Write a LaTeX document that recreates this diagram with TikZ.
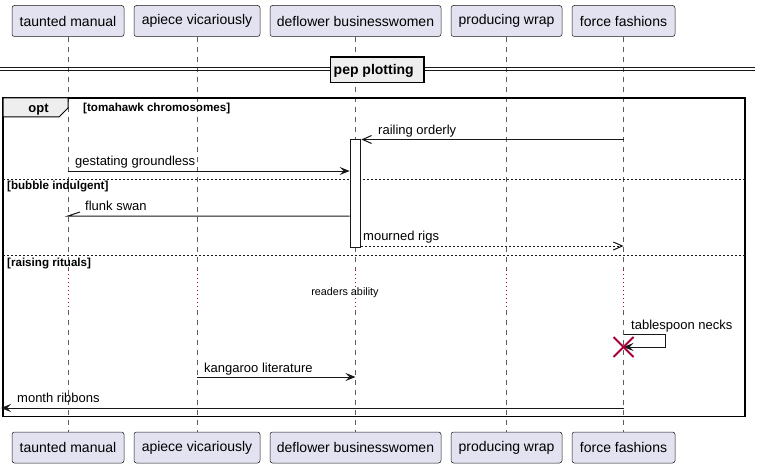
\documentclass[tikz,border=0pt]{standalone}
\usepackage{fontspec}
\setmainfont{Liberation Sans}
\usetikzlibrary{arrows.meta}
\definecolor{partfill}{HTML}{E2E2F0}
\definecolor{ink}{HTML}{181818}
\definecolor{crim}{HTML}{A80036}
\definecolor{grpfill}{HTML}{EEEEEE}
\newcommand{\fMsg}{\fontsize{13}{15}\selectfont}
\newcommand{\fPart}{\fontsize{14}{16}\selectfont}
\newcommand{\fGrd}{\fontsize{11.6}{13}\selectfont\bfseries}
\newcommand{\fSml}{\fontsize{10.8}{13}\selectfont}
\newcommand{\fHd}{\fontsize{13}{15}\selectfont\bfseries}
\newcommand{\fSep}{\fontsize{14}{16}\selectfont\bfseries}
\begin{document}
\begin{tikzpicture}[x=1pt,y=-1pt,
  part/.style={draw=ink, line width=0.5pt, fill=partfill, rounded corners=2.5pt, minimum height=31pt, inner sep=0pt, font=\fPart},
  life/.style={draw=ink!70, line width=0.5pt, dash pattern=on 5pt off 5pt},
  delayline/.style={draw=crim, line width=0.8pt, dash pattern=on 1pt off 3pt},
  msg/.style={draw=ink, line width=1pt},
  fillhead/.style={-{Stealth[length=10pt,width=8pt,inset=4pt]}},
  openhead/.style={-{Straight Barb[length=9pt,width=8pt]}},
  ret/.style={dash pattern=on 2pt off 2pt},
  lbl/.style={font=\fMsg, anchor=base west, inner sep=0pt},
  guard/.style={font=\fGrd, anchor=base west, inner sep=0pt},
  sep/.style={draw=ink, line width=1pt, dash pattern=on 2pt off 2pt},
]
\useasboundingbox (0,0) rectangle (760,468);

% participants
\node[part, minimum width=112pt] (tm) at (68,21) {taunted manual};
\node[part, minimum width=126pt] (av) at (197,21) {apiece vicariously};
\node[part, minimum width=171pt] (db) at (355.5,21) {deflower businesswomen};
\node[part, minimum width=111pt] (pw) at (506.5,21) {producing wrap};
\node[part, minimum width=103pt] (ff) at (623.5,21) {force fashions};
\node[part, minimum width=112pt] (tmb) at (68,447.5) {taunted manual};
\node[part, minimum width=126pt] (avb) at (197,447.5) {apiece vicariously};
\node[part, minimum width=171pt] (dbb) at (355.5,447.5) {deflower businesswomen};
\node[part, minimum width=111pt] (pwb) at (506.5,447.5) {producing wrap};
\node[part, minimum width=103pt] (ffb) at (623.5,447.5) {force fashions};

% lifelines with delay
\foreach \p/\q in {tm/tmb, av/avb, db/dbb, pw/pwb, ff/ffb}{
  \draw[life] (\p.south) -- (\p.south |- 0,270);
  \draw[delayline] (\p.south |- 0,270) -- (\p.south |- 0,310);
  \draw[life] (\p.south |- 0,310) -- (\q.north);
}

% separator
\draw[ink, line width=1pt] (0,67.5) -- (755,67.5);
\draw[ink, line width=1pt] (0,71) -- (755,71);
\node[draw=black, line width=1.5pt, fill=grpfill, minimum width=93.5pt, minimum height=25.5pt, inner sep=0pt] (sepbox) at (377.25,69.75) {};
\node[font=\fSep, anchor=base west, inner sep=0pt] (septxt) at (333.5,74.5) {pep plotting};

% opt frame
\draw[black, line width=1.5pt] (3,98) rectangle (745,416.5);
\draw[black, line width=1pt, fill=grpfill] (3,98) -- (68,98) -- (68,108) -- (59,117) -- (3,117) -- cycle;
\node[font=\fHd, anchor=base, inner sep=0pt] (opttxt) at (38.5,113) {opt};
\node[guard] (g1) at (83,112) {[tomahawk chromosomes]};
\draw[sep] (3,179.5) -- (745,179.5);
\node[guard] (g2) at (7,189.5) {[bubble indulgent]};
\draw[sep] (3,255) -- (745,255);
\node[guard] (g3) at (7,266.5) {[raising rituals]};

% activation
\node[draw=ink, fill=white, line width=1pt, minimum width=10.7pt, minimum height=108pt, inner sep=0pt, anchor=north] (act) at (355.5,139) {};

% messages
\draw[msg, openhead] (ff.south |- 0,139.5) -- (act.east |- 0,139.5);
\node[lbl] (l1) at (378,134.5) {railing orderly};

\draw[msg, fillhead] (tm.south |- 0,171) -- (act.west |- 0,171);
\node[lbl] (l2) at (75,165) {gestating groundless};

\draw[msg] (act.west |- 0,216) -- (tm.south |- 0,216) -- ++(12,-4);
\node[lbl] (l3) at (85,210.5) {flunk swan};

\draw[msg, ret, openhead] (act.east |- 0,246) -- (ff.south |- 0,246);
\node[lbl] (l4) at (363,240.5) {mourned rigs};

\node[font=\fSml, anchor=base, inner sep=0pt] (dly) at (345,295) {readers ability};

\coordinate (xd) at (ff.south |- 0,347);
\draw[msg, fillhead] (ff.south |- 0,334) -- ++(42,0) -- ++(0,13) -- (xd);
\node[lbl] (l5) at (631,329) {tablespoon necks};
\draw[crim, line width=2pt] ([shift={(-10,-10)}]xd) -- ([shift={(10,10)}]xd);
\draw[crim, line width=2pt] ([shift={(-10,10)}]xd) -- ([shift={(10,-10)}]xd);

\draw[msg, fillhead] (av.south |- 0,377) -- (db.south |- 0,377);
\node[lbl] (l6) at (204,372) {kangaroo literature};

\coordinate (edge) at (1,408);
\draw[msg, fillhead] (ff.south |- 0,408) -- (edge);
\node[lbl] (l7) at (17,402.5) {month ribbons};
\end{tikzpicture}
\end{document}
